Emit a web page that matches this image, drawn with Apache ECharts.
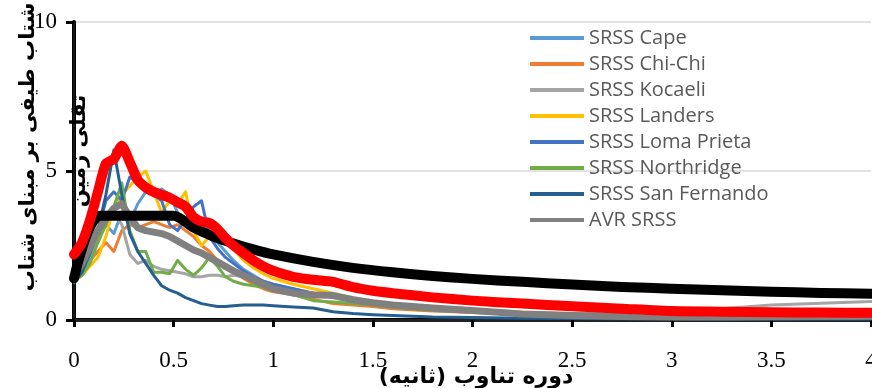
<!DOCTYPE html>
<html>
<head>
<meta charset="utf-8">
<script src="https://cdn.jsdelivr.net/npm/echarts@6/dist/echarts.min.js"></script>
<style>
  html, body { margin: 0; padding: 0; background: #fff; overflow: hidden; }
  #chart { width: 872px; height: 388px; }
</style>
</head>
<body>
<div id="chart"></div>
<script>
// Periods (s) shared by the record spectra
const periods = [0, 0.04, 0.08, 0.12, 0.16, 0.2, 0.24, 0.28, 0.32, 0.36, 0.4, 0.44, 0.48, 0.52, 0.56, 0.6, 0.64, 0.68, 0.72, 0.76, 0.8,
  0.85, 0.9, 0.95, 1.0, 1.1, 1.2, 1.3, 1.4, 1.5, 1.6, 1.8, 2.0, 2.25, 2.5, 2.75, 3.0, 3.25, 3.5, 3.75, 4.0];

const srssCape = [1.3, 1.6, 2.1, 2.8, 3.2, 2.9, 3.6, 3.3, 3.9, 4.3, 4.2, 4.4, 4.2, 3.6, 3.3, 3.4, 3.2, 3.0, 2.6, 2.3, 2.0,
  1.7, 1.5, 1.3, 1.15, 1.0, 0.9, 0.8, 0.7, 0.6, 0.52, 0.4, 0.32, 0.24, 0.18, 0.14, 0.11, 0.09, 0.08, 0.07, 0.06];
const srssChiChi = [1.3, 1.6, 2.0, 2.3, 2.6, 2.3, 3.0, 3.2, 3.1, 3.2, 3.3, 3.2, 3.1, 3.2, 3.0, 2.8, 2.5, 2.3, 2.0, 1.8, 1.6,
  1.4, 1.2, 1.05, 0.95, 0.85, 0.7, 0.55, 0.5, 0.45, 0.38, 0.3, 0.25, 0.2, 0.16, 0.13, 0.11, 0.1, 0.09, 0.08, 0.07];
const srssKocaeli = [1.3, 1.5, 2.0, 2.8, 3.4, 3.6, 3.2, 2.2, 1.9, 2.0, 1.8, 1.7, 1.65, 1.6, 1.55, 1.45, 1.45, 1.5, 1.5, 1.45, 1.5,
  1.45, 1.35, 1.3, 1.2, 1.05, 0.9, 0.8, 0.7, 0.6, 0.5, 0.38, 0.3, 0.24, 0.22, 0.25, 0.3, 0.38, 0.5, 0.56, 0.62];
const srssLanders = [1.3, 1.5, 1.8, 2.1, 2.8, 3.8, 4.2, 4.5, 4.8, 5.0, 4.3, 3.6, 4.0, 3.9, 4.3, 3.0, 2.5, 2.8, 3.2, 2.8, 2.4,
  2.0, 1.75, 1.55, 1.4, 1.2, 1.05, 0.9, 0.75, 0.62, 0.52, 0.4, 0.33, 0.26, 0.2, 0.16, 0.13, 0.11, 0.1, 0.09, 0.08];
const srssLomaPrieta = [1.3, 1.6, 2.2, 3.0, 4.0, 4.3, 4.0, 4.8, 4.6, 4.4, 4.2, 4.0, 3.2, 3.0, 3.4, 3.8, 4.0, 2.8, 2.4, 2.1, 1.9,
  1.65, 1.45, 1.3, 1.2, 1.05, 0.9, 0.78, 0.68, 0.58, 0.5, 0.38, 0.3, 0.23, 0.18, 0.14, 0.12, 0.1, 0.09, 0.08, 0.07];
const srssNorthridge = [1.3, 1.5, 1.9, 2.6, 3.2, 3.8, 4.6, 3.0, 2.3, 2.3, 1.6, 1.6, 1.55, 2.0, 1.7, 1.5, 1.75, 2.1, 1.8, 1.45, 1.3,
  1.2, 1.15, 1.1, 1.0, 0.85, 0.65, 0.6, 0.55, 0.5, 0.42, 0.33, 0.26, 0.2, 0.15, 0.12, 0.1, 0.09, 0.08, 0.07, 0.06];
const srssSanFernando = [1.25, 1.6, 2.3, 3.0, 4.2, 5.7, 4.2, 2.9, 2.3, 1.9, 1.5, 1.15, 1.0, 0.9, 0.75, 0.65, 0.55, 0.5, 0.45, 0.45, 0.48,
  0.5, 0.5, 0.5, 0.48, 0.44, 0.4, 0.28, 0.22, 0.18, 0.15, 0.1, 0.08, 0.06, 0.05, 0.04, 0.04, 0.03, 0.03, 0.03, 0.03];
const avrSrss = [1.45, 1.9, 2.45, 3.0, 3.4, 3.75, 3.9, 3.45, 3.1, 3.0, 2.95, 2.9, 2.8, 2.65, 2.5, 2.35, 2.25, 2.1, 1.95, 1.8, 1.65,
  1.5, 1.35, 1.2, 1.05, 0.9, 0.85, 0.82, 0.68, 0.58, 0.5, 0.4, 0.32, 0.2, 0.15, 0.12, 0.1, 0.1, 0.11, 0.12, 0.13];
const scaledSpectrum = [2.2, 2.6, 3.35, 4.3, 5.25, 5.4, 5.85, 5.3, 4.7, 4.45, 4.3, 4.2, 4.1, 3.95, 3.8, 3.45, 3.3, 3.25, 3.05, 2.75, 2.5,
  2.25, 2.0, 1.8, 1.65, 1.45, 1.35, 1.28, 1.1, 0.98, 0.9, 0.76, 0.65, 0.55, 0.46, 0.38, 0.3, 0.28, 0.26, 0.25, 0.24];

// Code design spectrum
const designPeriods = [0, 0.13, 0.5, 0.6, 0.7, 0.8, 0.9, 1.0, 1.2, 1.4, 1.6, 1.8, 2.0, 2.25, 2.5, 2.75, 3.0, 3.25, 3.5, 3.75, 4.0];
const designValues = [1.4, 3.5, 3.5, 3.1, 2.8, 2.57, 2.37, 2.2, 1.95, 1.75, 1.6, 1.48, 1.38, 1.28, 1.19, 1.11, 1.05, 1.0, 0.95, 0.91, 0.88];

const recordNames = ['SRSS Cape', 'SRSS Chi-Chi', 'SRSS Kocaeli', 'SRSS Landers', 'SRSS Loma Prieta',
  'SRSS Northridge', 'SRSS San Fernando', 'AVR SRSS'];
const recordValues = [srssCape, srssChiChi, srssKocaeli, srssLanders, srssLomaPrieta, srssNorthridge, srssSanFernando, avrSrss];
const recordColors = ['#5b9bd5', '#ed7d31', '#a5a5a5', '#ffc000', '#4472c4', '#70ad47', '#255e91', '#808080'];

const xTicks = { min: 0, max: 4, interval: 0.5 };
const yTicks = { min: 0, max: 10, interval: 5 };

const yTitleLine1 = '\u200Fشتاب طیفی بر مبنای شتاب\u200F';
const yTitleLine2 = '\u200Fثقلی زمین\u200F';
const xTitle = '\u200Fدوره تناوب (ثانیه)\u200F';

function pairs(xs, ys) { return xs.map((t, i) => [t, ys[i]]); }

const series = recordNames.map((name, i) => ({
  name: name,
  type: 'line',
  data: pairs(periods, recordValues[i]),
  showSymbol: false,
  smooth: false,
  color: recordColors[i],
  lineStyle: { width: name === 'AVR SRSS' ? 7 : 3, color: recordColors[i], cap: 'round', join: 'round' },
  z: 2
}));
series.push({
  name: 'Design spectrum',
  type: 'line',
  data: pairs(designPeriods, designValues),
  showSymbol: false,
  smooth: 0.25,
  color: '#000',
  lineStyle: { width: 10, color: '#000', cap: 'round', join: 'round' },
  z: 3
});
series.push({
  name: 'Scaled spectrum',
  type: 'line',
  data: pairs(periods, scaledSpectrum),
  showSymbol: false,
  smooth: 0.2,
  color: '#ff0000',
  lineStyle: { width: 10, color: '#ff0000', cap: 'round', join: 'round' },
  z: 4
});

const serif = '"Liberation Serif", "Times New Roman", serif';
const arabicFont = '"DejaVu Sans", sans-serif';

const chart = echarts.init(document.getElementById('chart'), null, { renderer: 'canvas' });
chart.setOption({
  animation: false,
  backgroundColor: '#fff',
  grid: { left: 74, right: 1, top: 22, bottom: 68, containLabel: false, outerBoundsMode: 'none' },
  legend: {
    data: recordNames,
    orient: 'vertical',
    left: 530,
    top: 28,
    padding: 0,
    icon: 'rect',
    itemWidth: 54,
    itemHeight: 4,
    itemGap: 6,
    textStyle: { fontFamily: '"Open Sans", sans-serif', fontSize: 20, color: '#595959', lineHeight: 20 }
  },
  xAxis: [{
    type: 'value',
    min: xTicks.min, max: xTicks.max, interval: xTicks.interval,
    axisLine: { show: true, onZero: false, lineStyle: { color: '#000', width: 4 } },
    axisTick: { show: true, inside: false, length: 7, lineStyle: { color: '#000', width: 3 } },
    axisLabel: { fontFamily: serif, fontSize: 23, color: '#000', margin: 29, showMaxLabel: true, showMinLabel: true },
    splitLine: { show: false }
  }, {
    type: 'value',
    position: 'top',
    min: xTicks.min, max: xTicks.max,
    axisLine: { show: true, lineStyle: { color: '#222', width: 3 } },
    axisTick: { show: false }, axisLabel: { show: false }, splitLine: { show: false }
  }],
  yAxis: [{
    type: 'value',
    min: yTicks.min, max: yTicks.max, interval: yTicks.interval,
    axisLine: { show: true, onZero: false, lineStyle: { color: '#000', width: 4 } },
    axisTick: { show: true, inside: false, length: 8, lineStyle: { color: '#000', width: 3 } },
    axisLabel: { fontFamily: serif, fontSize: 23, color: '#000', margin: 17 },
    splitLine: { show: true, lineStyle: { color: '#d9d9d9', width: 1.5 } }
  }, {
    type: 'value',
    position: 'right',
    min: yTicks.min, max: yTicks.max,
    axisLine: { show: true, lineStyle: { color: '#222', width: 1.5 } },
    axisTick: { show: false }, axisLabel: { show: false }, splitLine: { show: false }
  }],
  series: series,
  graphic: [
    {
      type: 'text', x: 29, y: 147, rotation: Math.PI / 2, z: 100,
      style: { text: yTitleLine1, font: 'bold 21px ' + arabicFont, fill: '#000', align: 'center', verticalAlign: 'middle' }
    },
    {
      type: 'text', x: 80, y: 151, rotation: Math.PI / 2, z: 100,
      style: { text: yTitleLine2, font: 'bold 21px ' + arabicFont, fill: '#000', align: 'center', verticalAlign: 'middle' }
    },
    {
      type: 'text', x: 476, y: 377, z: 100,
      style: { text: xTitle, font: 'bold 22px ' + arabicFont, fill: '#000', align: 'center', verticalAlign: 'middle' }
    }
  ]
});
</script>
</body>
</html>
